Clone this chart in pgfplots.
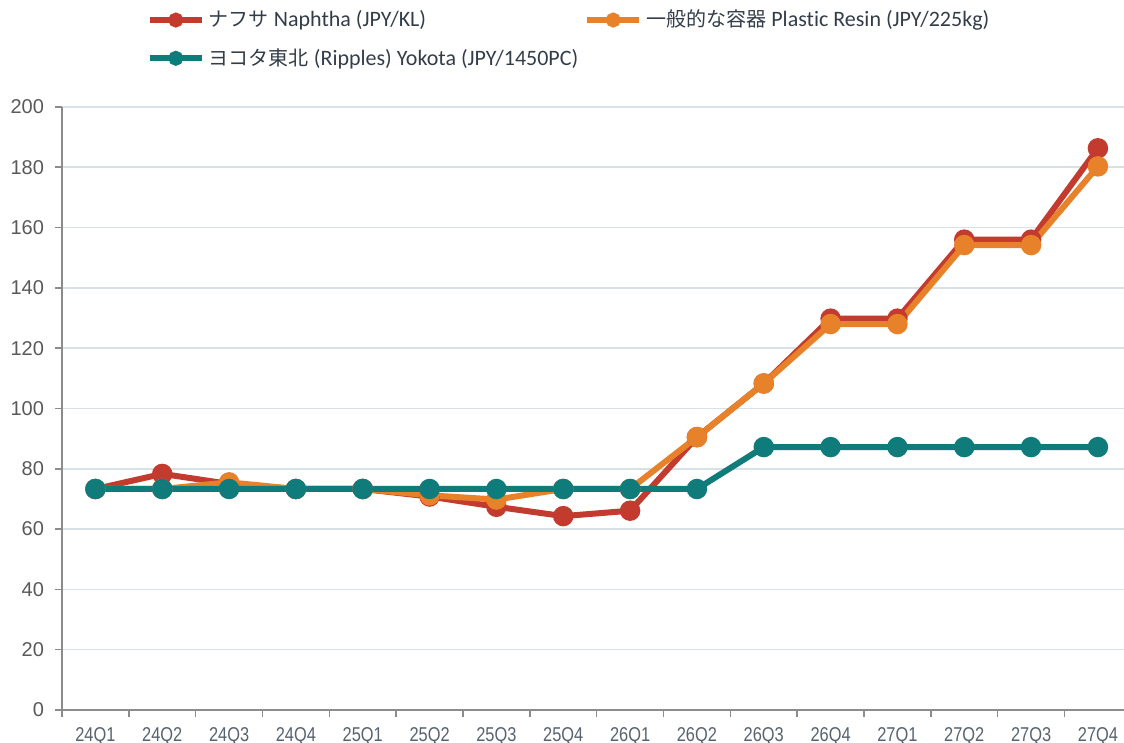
\documentclass[border=0pt]{standalone}
\usepackage{fontspec}
\setmainfont[Ligatures=NoCommon]{Carlito}
\newfontfamily\jp[Scale=0.91]{Noto Sans CJK JP}
\newfontfamily\yticks{Liberation Sans}
\newfontfamily\xticks[FakeStretch=0.82]{Liberation Sans}
\usepackage{pgfplots}
\pgfplotsset{compat=1.18}
\definecolor{cred}{HTML}{C23B2E}
\definecolor{corange}{HTML}{E8822A}
\definecolor{cteal}{HTML}{0F7B7B}
\definecolor{cgrid}{HTML}{D8E2E6}
\definecolor{caxis}{HTML}{8C8C8C}
\definecolor{ctick}{HTML}{595959}
\definecolor{cxtick}{HTML}{56626E}
\definecolor{clegend}{HTML}{333D4A}
\begin{document}
\begin{tikzpicture}
\begin{axis}[
  scale only axis, width=531pt, height=301.5pt,
  xmin=-0.5, xmax=15.39, ymin=0, ymax=200,
  axis lines*=left,
  axis line style={caxis, line width=1pt},
  clip=false,
  ytick={0,20,...,200},
  ymajorgrids, grid style={cgrid, line width=0.8pt},
  xtick={-0.5,0.5,...,14.5},
  xticklabels={},
  major tick length=3.5pt,
  tick align=outside,
  tick style={caxis, line width=0.8pt},
  extra x ticks={0,...,15},
  extra x tick labels={24Q1,24Q2,24Q3,24Q4,25Q1,25Q2,25Q3,25Q4,26Q1,26Q2,26Q3,26Q4,27Q1,27Q2,27Q3,27Q4},
  extra x tick style={major tick length=0pt, grid=none},
  /pgf/number format/assume math mode=true,
  yticklabel style={font=\yticks\fontsize{10}{12}\selectfont, text=ctick, xshift=-2pt},
  xticklabel style={font=\xticks\fontsize{10}{12}\selectfont, text=cxtick, yshift=-5pt},
  legend columns=2,
  legend style={at={(axis description cs:0.0795,1.168)}, anchor=north west, draw=none, fill=none,
    inner sep=0pt, font=\fontsize{11}{13}\selectfont, text=clegend,
    /tikz/every even column/.append style={column sep=1pt},
    row sep=5.2pt},
  legend cell align=left,
  legend image code/.code={\draw[#1, mark repeat=2, mark phase=2, mark size=2.2pt] plot coordinates {(0pt,0pt) (13pt,0pt) (26pt,0pt)};},
  every axis plot/.append style={line width=3pt, mark=*, mark size=3.6pt},
]
\addplot[cred, mark options={fill=cred, draw=cred}] coordinates {
(0,73.3) (1,78.3) (2,75) (3,73.3) (4,73.3) (5,70.8) (6,67.4) (7,64.3) (8,66.1)
(9,90.5) (10,108.3) (11,129.8) (12,129.8) (13,156) (14,156) (15,186.3)};
\addlegendentry{{\jp ナフサ} Naphtha (JPY/KL)}
\addplot[corange, mark options={fill=corange, draw=corange}] coordinates {
(0,73.3) (1,73.3) (2,75.5) (3,73.3) (4,73.3) (5,71.2) (6,69.8) (7,73.3) (8,73.3)
(9,90.5) (10,108.3) (11,128) (12,128) (13,154.2) (14,154.2) (15,180.3)};
\addlegendentry{{\jp 一般的な容器} Plastic Resin (JPY/225kg)}
\addplot[cteal, mark options={fill=cteal, draw=cteal}] coordinates {
(0,73.3) (1,73.3) (2,73.3) (3,73.3) (4,73.3) (5,73.3) (6,73.3) (7,73.3) (8,73.3)
(9,73.3) (10,87.2) (11,87.2) (12,87.2) (13,87.2) (14,87.2) (15,87.2)};
\addlegendentry{{\jp ヨコタ東北} (Ripples) Yokota (JPY/1450PC)}
\end{axis}
\pgfresetboundingbox
\path[use as bounding box] (current axis.south west) ++(-31pt,-16.5pt) rectangle ++(562pt,371.5pt);
\end{tikzpicture}
\end{document}
